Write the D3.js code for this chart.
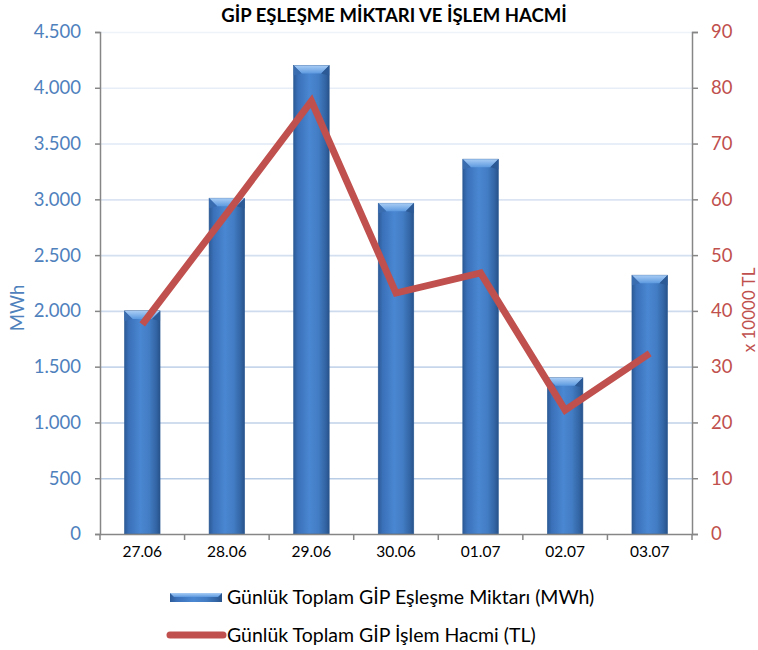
<!DOCTYPE html>
<html><head><meta charset="utf-8">
<script src="https://cdn.jsdelivr.net/npm/d3@7"></script>
<style>body{margin:0;background:#fff}svg{display:block;font-family:Lato,"Open Sans",sans-serif}</style>
</head><body><svg id="c" width="758" height="650"></svg>
<script>
const categories = ["27.06","28.06","29.06","30.06","01.07","02.07","03.07"];
const matchMWh = [2000, 3010, 4200, 2965, 3360, 1400, 2320];
const volume10kTL = [37.6, 57.5, 77.6, 43.2, 46.8, 22.2, 32.4];
const leftTicks = [0,500,1000,1500,2000,2500,3000,3500,4000,4500];
const rightTicks = [0,10,20,30,40,50,60,70,80,90];
const title = "GİP EŞLEŞME MİKTARI VE İŞLEM HACMİ";
const seriesNames = ["Günlük Toplam GİP Eşleşme Miktarı (MWh)", "Günlük Toplam GİP İşlem Hacmi (TL)"];

const svg = d3.select("#c");
const L = 100, R = 692, T = 32, B = 534;
const x = d3.scaleBand().domain(categories).range([L, R]).paddingInner(0.58).paddingOuter(0.29);
const xc = d => x(d) + x.bandwidth()/2;
const yL = d3.scaleLinear().domain([0,4500]).range([B,T]);
const yR = d3.scaleLinear().domain([0,90]).range([B,T]);
const blue = "#4f81bd", red = "#c0504d", axisCol = "#868686";

const defs = svg.append("defs");
const gg = defs.append("linearGradient").attr("id","grid").attr("gradientUnits","userSpaceOnUse")
  .attr("x1",0).attr("y1",T).attr("x2",0).attr("y2",B);
gg.append("stop").attr("offset",0).attr("stop-color","#eef2f9");
gg.append("stop").attr("offset",1).attr("stop-color","#b3c8e4");
const bg = defs.append("linearGradient").attr("id","bar").attr("x1",0).attr("x2",1).attr("y1",0).attr("y2",0);
[[0,"#2c5a96"],[0.12,"#3a70b8"],[0.45,"#4a87d2"],[0.7,"#427cc3"],[0.9,"#3264a3"],[1,"#28528a"]]
  .forEach(([o,c])=>bg.append("stop").attr("offset",o).attr("stop-color",c));
const tg = defs.append("linearGradient").attr("id","bevel").attr("x1",0).attr("x2",0).attr("y1",0).attr("y2",1);
tg.append("stop").attr("offset",0).attr("stop-color","#a9cdf5");
tg.append("stop").attr("offset",1).attr("stop-color","#5d9ae0");

// gridlines
svg.append("g").selectAll("line").data(leftTicks.filter(d=>d>0)).join("line")
  .attr("x1",L).attr("x2",R).attr("y1",d=>yL(d)+0.5).attr("y2",d=>yL(d)+0.5)
  .attr("stroke","url(#grid)").attr("stroke-width",1.6);

// bars
const bw = x.bandwidth(), bev = 8;
const bars = svg.append("g").selectAll("g").data(categories).join("g");
bars.append("rect").attr("x",d=>x(d)).attr("y",(d,i)=>yL(matchMWh[i])).attr("width",bw)
  .attr("height",(d,i)=>B-yL(matchMWh[i])).attr("fill","url(#bar)").attr("stroke","#2b5a94").attr("stroke-width",0.6);
bars.append("path").attr("d",(d,i)=>{const x0=x(d),x1=x0+bw,y0=yL(matchMWh[i]);
  return `M${x0},${y0}L${x1},${y0}L${x1-bev},${y0+bev}L${x0+bev},${y0+bev}Z`;}).attr("fill","url(#bevel)");
bars.append("path").attr("d",(d,i)=>{const x0=x(d),y0=yL(matchMWh[i]);
  return `M${x0},${y0}L${x0+bev},${y0+bev}L${x0},${y0+bev+2}Z`;}).attr("fill","#3a6cb0");
bars.append("path").attr("d",(d,i)=>{const x1=x(d)+bw,y0=yL(matchMWh[i]);
  return `M${x1},${y0}L${x1-bev},${y0+bev}L${x1},${y0+bev+2}Z`;}).attr("fill","#2c5a96");

// axes
const axL = svg.append("g").attr("transform",`translate(${L},0)`)
  .call(d3.axisLeft(yL).tickValues(leftTicks).tickSize(5).tickPadding(14)
    .tickFormat(d=>d3.format(",")(d).replace(/,/g,".")));
const axR = svg.append("g").attr("transform",`translate(${R},0)`)
  .call(d3.axisRight(yR).tickValues(rightTicks).tickSize(6).tickPadding(13));
const axB = svg.append("g").attr("transform",`translate(0,${B})`)
  .call(d3.axisBottom(x).tickSize(0).tickPadding(12));
[axL,axR,axB].forEach(a=>{a.select(".domain").attr("stroke",axisCol).attr("stroke-width",1.5);
  a.selectAll(".tick line").attr("stroke",axisCol).attr("stroke-width",1.5);});
axL.selectAll("text").attr("fill",blue).style("font-size","18.5px").style("font-family","Lato");
axR.selectAll("text").attr("fill",red).style("font-size","18.5px").style("font-family","Lato");
axB.selectAll("text").attr("fill","#000").style("font-size","15.5px").style("font-family","Lato");
// category boundary ticks
const bounds = categories.map(c=>x(c)-x.step()*x.paddingInner()/2).concat([R]);
svg.append("g").selectAll("line").data(bounds).join("line")
  .attr("x1",d=>d).attr("x2",d=>d).attr("y1",B).attr("y2",B+6).attr("stroke",axisCol).attr("stroke-width",1.5);

// line
svg.append("path").datum(volume10kTL)
  .attr("d",d3.line().x((d,i)=>xc(categories[i])).y(d=>yR(d)))
  .attr("fill","none").attr("stroke",red).attr("stroke-width",7).attr("stroke-linejoin","miter");

// titles
svg.append("text").attr("x",394).attr("y",22).attr("text-anchor","middle")
  .style("font-size","18.5px").style("font-weight","bold").text(title);
svg.append("text").attr("transform","translate(24,308) rotate(-90)").attr("text-anchor","middle")
  .attr("fill",blue).style("font-size","18.5px").text("MWh");
svg.append("text").attr("transform","translate(755,310) rotate(-90)").attr("text-anchor","middle")
  .attr("fill",red).style("font-size","17px").text("x 10000 TL");

// legend
const lg = svg.append("g");
lg.append("rect").attr("x",170).attr("y",593).attr("width",52).attr("height",9).attr("fill","url(#bar)");
lg.append("path").attr("d","M170,593L222,593L218,597L174,597Z").attr("fill","url(#bevel)");
lg.append("text").attr("x",227).attr("y",604).style("font-size","19.5px").text(seriesNames[0]);
lg.append("line").attr("x1",170).attr("x2",223).attr("y1",635).attr("y2",635)
  .attr("stroke",red).attr("stroke-width",7).attr("stroke-linecap","round");
lg.append("text").attr("x",227).attr("y",642).style("font-size","19.5px").text(seriesNames[1]);
</script></body></html>
